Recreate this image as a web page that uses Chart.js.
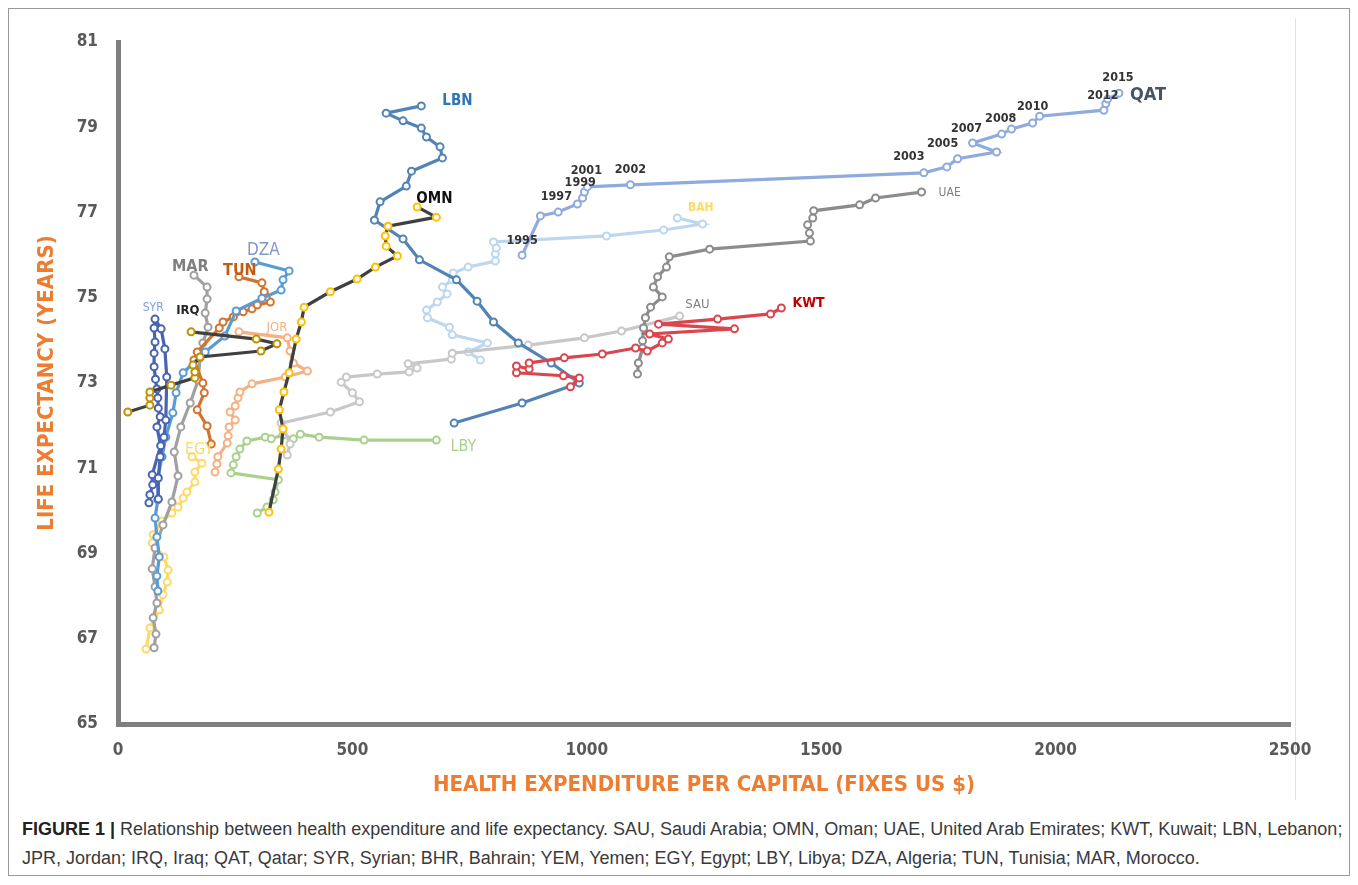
<!DOCTYPE html>
<html><head><meta charset="utf-8">
<script src="https://cdn.jsdelivr.net/npm/chart.js@4.4.1/dist/chart.umd.min.js"></script>
<style>
html,body{margin:0;padding:0;background:#fff;width:1358px;height:885px;overflow:hidden;}
#frame{position:absolute;left:8px;top:8px;width:1342px;height:868px;border:1px solid #9a9a9a;box-sizing:border-box;}
#vline{position:absolute;left:1295px;top:18px;width:1px;height:782px;background:#e2e2e2;}
#wrap{position:absolute;left:0;top:0;width:1358px;height:800px;}
#caption{position:absolute;left:22px;top:815px;width:1330px;font-family:'Liberation Sans',Arial,sans-serif;font-size:18px;line-height:29px;color:#3a3a3a;white-space:nowrap;}
#caption b{color:#222;}
</style></head>
<body>
<div id="frame"></div>
<div id="vline"></div>
<div id="wrap"><canvas id="c" width="1358" height="800"></canvas></div>
<div id="caption"><b>FIGURE 1 |</b> Relationship between health expenditure and life expectancy. SAU, Saudi Arabia; OMN, Oman; UAE, United Arab Emirates; KWT, Kuwait; LBN, Lebanon;<br>JPR, Jordan; IRQ, Iraq; QAT, Qatar; SYR, Syrian; BHR, Bahrain; YEM, Yemen; EGY, Egypt; LBY, Libya; DZA, Algeria; TUN, Tunisia; MAR, Morocco.</div>
<script>
// ---- data: health expenditure per capita (US$) and life expectancy (years) ----
const qatExp  = [862,901,939,980,991,995,1001,1093,1719,1768,1791,1874,1823,1885,1906,1951,1966,2103,2107,2111,2135];
const qatLife = [76.00,76.92,77.01,77.20,77.34,77.48,77.60,77.65,77.93,78.07,78.26,78.42,78.63,78.84,78.96,79.10,79.26,79.40,79.55,79.66,79.80];
const uaeExp  = [1108,1110,1119,1119,1121,1125,1136,1161,1142,1151,1170,1176,1262,1477,1475,1471,1482,1484,1582,1616,1714];
const uaeLife = [73.21,73.47,73.82,73.99,74.29,74.53,74.78,75.02,75.25,75.49,75.72,75.96,76.14,76.33,76.52,76.71,76.87,77.04,77.18,77.34,77.48];
const sauExp  = [361,367,348,453,515,500,476,487,553,621,638,619,711,713,875,995,1074,1198];
const sauLife = [71.31,71.57,72.06,72.32,72.56,72.77,73.02,73.14,73.21,73.26,73.35,73.45,73.56,73.70,73.89,74.06,74.22,74.57];
const kwtExp  = [965,984,950,850,850,877,877,952,1033,1104,1129,1161,1174,1134,1315,1153,1279,1392,1415];
const kwtLife = [72.91,73.12,73.17,73.24,73.40,73.33,73.47,73.59,73.68,73.82,73.75,73.94,74.03,74.15,74.27,74.38,74.50,74.62,74.76];
const bahExp  = [773,747,788,713,707,660,658,681,702,692,713,715,747,805,805,807,801,1042,1164,1247,1193];
const bahLife = [73.54,73.73,73.94,74.13,74.31,74.53,74.71,74.90,75.09,75.25,75.42,75.58,75.72,75.86,76.03,76.17,76.31,76.45,76.59,76.73,76.87];
const lbnExp  = [717,862,984,924,854,801,766,722,643,608,547,559,615,626,692,687,658,647,608,572,647];
const lbnLife = [72.06,72.53,73.00,73.47,73.94,74.43,74.92,75.42,75.89,76.38,76.82,77.25,77.62,77.97,78.28,78.54,78.77,78.98,79.15,79.33,79.50];
const omnExp  = [322,342,348,352,344,354,365,380,391,397,453,510,549,596,572,570,576,679,638];
const omnLife = [69.97,70.98,71.45,71.92,72.37,72.79,73.24,74.03,74.43,74.78,75.14,75.44,75.72,75.98,76.21,76.45,76.68,76.89,77.13];
const irqExp  = [21,68,68,68,113,164,164,160,175,305,339,295,156];
const irqLife = [72.32,72.48,72.65,72.79,72.95,73.12,73.26,73.42,73.61,73.75,73.92,74.03,74.20];
const syrExp  = [66,68,74,73,91,83,90,86,85,83,80,77,77,79,77,79,92,100,104,102,98,90,86,86];
const syrLife = [70.19,70.38,70.61,70.85,71.53,71.97,72.21,72.41,72.65,72.86,73.09,73.38,73.70,73.96,74.29,74.50,74.27,73.80,73.14,72.13,71.73,71.27,70.77,70.28];
const dzaExp  = [85,83,88,83,79,85,85,94,102,117,124,139,186,228,252,307,348,352,365,292];
const dzaLife = [68.12,68.47,68.92,69.39,69.83,70.26,70.77,71.27,71.73,72.30,72.77,73.24,73.73,74.10,74.69,74.99,75.18,75.42,75.63,75.84];
const tunExp  = [199,190,169,184,181,162,169,216,224,246,267,286,297,325,316,312,307,258];
const tunLife = [71.57,71.99,72.37,72.77,73.00,73.54,73.73,74.29,74.43,74.55,74.67,74.74,74.83,74.90,75.02,75.14,75.35,75.49];
const marExp  = [77,81,75,83,79,73,79,96,115,128,120,134,154,171,175,181,192,186,190,190,162];
const marLife = [66.79,67.11,67.49,67.84,68.22,68.64,69.13,69.67,70.21,70.82,71.38,71.97,72.53,73.07,73.59,73.94,74.31,74.64,74.97,75.25,75.53];
const egyExp  = [60,68,88,96,105,107,98,73,75,94,115,128,139,147,164,164,179,158];
const egyLife = [66.76,67.25,67.68,68.03,68.33,68.61,68.92,69.25,69.44,69.76,69.95,70.09,70.30,70.44,70.68,70.91,71.12,71.27];
const jorExp  = [207,211,213,233,235,237,250,239,250,256,260,286,357,404,374,367,361,258];
const jorLife = [70.91,71.10,71.27,71.59,71.76,71.97,72.13,72.32,72.46,72.65,72.79,72.98,73.14,73.28,73.47,73.75,74.06,74.20];
const lbyExp  = [297,318,331,335,342,241,246,252,260,275,314,327,352,374,389,429,525,679];
const lbyLife = [69.95,70.09,70.26,70.44,70.73,70.89,71.08,71.27,71.45,71.64,71.73,71.69,71.78,71.69,71.80,71.73,71.66,71.66];

const xTicks = [0,500,1000,1500,2000,2500];
const yTicks = [65,67,69,71,73,75,77,79,81];

// series labels and QAT year labels (text, x value, y value)
const labelText = ['LBN','OMN','DZA','MAR','TUN','SYR','IRQ','JOR','EGY','LBY','SAU','KWT','BAH','UAE','QAT'];
const labelX    = [724,675,310,154,260,75,149,339,173,737,1236,1473,1243,1774,2197];
const labelY    = [79.62,77.32,76.10,75.72,75.63,74.76,74.69,74.29,71.43,71.50,74.83,74.88,77.11,77.46,79.76];
const yearText  = ['1995','1997','1999','2001','2002','2003','2005','2007','2008','2010','2012','2015'];
const yearX     = [862,935,986,999,1093,1687,1759,1810,1883,1951,2101,2133];
const yearY     = [76.33,77.36,77.69,77.97,78.00,78.30,78.61,78.96,79.19,79.48,79.73,80.16];

// ---- styles ----
const labelStyle = {
  LBN:{c:'#2E75B6',s:15,w:'bold'}, OMN:{c:'#111111',s:15,w:'bold'}, DZA:{c:'#8496C8',s:17,w:'normal'},
  MAR:{c:'#7F7F7F',s:16,w:'bold'}, TUN:{c:'#C55A11',s:16,w:'bold'}, SYR:{c:'#7F9FDF',s:12,w:'normal'},
  IRQ:{c:'#262626',s:13,w:'bold'}, JOR:{c:'#F4B183',s:13,w:'normal'}, EGY:{c:'#FFD966',s:16,w:'normal'},
  LBY:{c:'#A9D18E',s:16,w:'normal'}, SAU:{c:'#7F7F7F',s:13,w:'normal'}, KWT:{c:'#C00000',s:14,w:'bold'},
  BAH:{c:'#FFD966',s:12,w:'bold'}, UAE:{c:'#7F7F7F',s:12,w:'normal'}, QAT:{c:'#44546A',s:18,w:'bold'}
};
const FONT = "'Liberation Sans Narrow','DejaVu Sans Condensed','Open Sans',sans-serif";

function series(xs, ys, line, marker){
  return {
    data: xs.map((v,i)=>({x:v, y:ys[i]})),
    showLine:true, borderColor:line, borderWidth:3.2, tension:0,
    pointRadius:3.5, pointBorderWidth:2, pointBorderColor:marker||line,
    pointBackgroundColor:'#ffffff', pointHoverRadius:3.5
  };
}

const datasets = [
  series(omnExp, omnLife, '#404040', '#FFC000'),
  series(irqExp, irqLife, '#404040', '#BF9000'),
  series(kwtExp, kwtLife, '#D9464E'),
  series(lbnExp, lbnLife, '#5383B5'),
  series(qatExp, qatLife, '#8FAADC'),
  series(uaeExp, uaeLife, '#8C8C8C'),
  series(sauExp, sauLife, '#C8C8C8'),
  series(bahExp, bahLife, '#BDD7EE'),
  series(syrExp, syrLife, '#4863B0'),
  series(dzaExp, dzaLife, '#5B9BD5'),
  series(tunExp, tunLife, '#D2742F'),
  series(marExp, marLife, '#A0A0A0'),
  series(jorExp, jorLife, '#F4B183'),
  series(egyExp, egyLife, '#FFD966'),
  series(lbyExp, lbyLife, '#A9D18E')
];

const textPlugin = {
  id:'texts',
  afterDatasetsDraw(chart){
    const {ctx, scales:{x,y}} = chart;
    ctx.save();
    ctx.textAlign='center'; ctx.textBaseline='middle';
    labelText.forEach((t,i)=>{
      const st = labelStyle[t];
      ctx.font = st.w+' '+st.s+'px '+FONT;
      ctx.fillStyle = st.c;
      ctx.fillText(t, x.getPixelForValue(labelX[i]), y.getPixelForValue(labelY[i]));
    });
    ctx.font = 'bold 12.5px '+FONT;
    ctx.fillStyle = '#333333';
    yearText.forEach((t,i)=>{
      ctx.fillText(t, x.getPixelForValue(yearX[i]), y.getPixelForValue(yearY[i]));
    });
    ctx.restore();
  }
};

new Chart(document.getElementById('c'), {
  type:'scatter',
  data:{datasets},
  plugins:[textPlugin],
  options:{
    responsive:false, animation:false,
    layout:{padding:{left:34,right:68,top:42,bottom:2}},
    plugins:{legend:{display:false}, tooltip:{enabled:false}},
    scales:{
      x:{
        type:'linear', min:xTicks[0], max:xTicks[xTicks.length-1],
        afterBuildTicks(s){ s.ticks = xTicks.map(v=>({value:v})); },
        ticks:{padding:16, color:'#595959', font:{family:FONT,size:17,weight:'bold'}, callback:(v)=>String(v)},
        grid:{display:false, drawTicks:false},
        border:{display:true, color:'#7F7F7F', width:5},
        title:{display:true, text:'HEALTH EXPENDITURE PER CAPITAL (FIXES US $)', color:'#ED7D31',
               font:{family:FONT,size:22,weight:'bold'}, padding:0},
        afterFit(s){ s.height = 74; }
      },
      y:{
        type:'linear', min:yTicks[0], max:yTicks[yTicks.length-1],
        afterBuildTicks(s){ s.ticks = yTicks.map(v=>({value:v})); },
        ticks:{padding:20, color:'#595959', font:{family:FONT,size:17,weight:'bold'}, callback:(v)=>String(v)},
        grid:{display:false, drawTicks:false},
        border:{display:true, color:'#7F7F7F', width:5},
        title:{display:true, text:'LIFE EXPECTANCY (YEARS)', color:'#ED7D31',
               font:{family:FONT,size:22,weight:'bold'}, padding:0},
        afterFit(s){ s.width = 84; }
      }
    }
  }
});
</script>
</body></html>
